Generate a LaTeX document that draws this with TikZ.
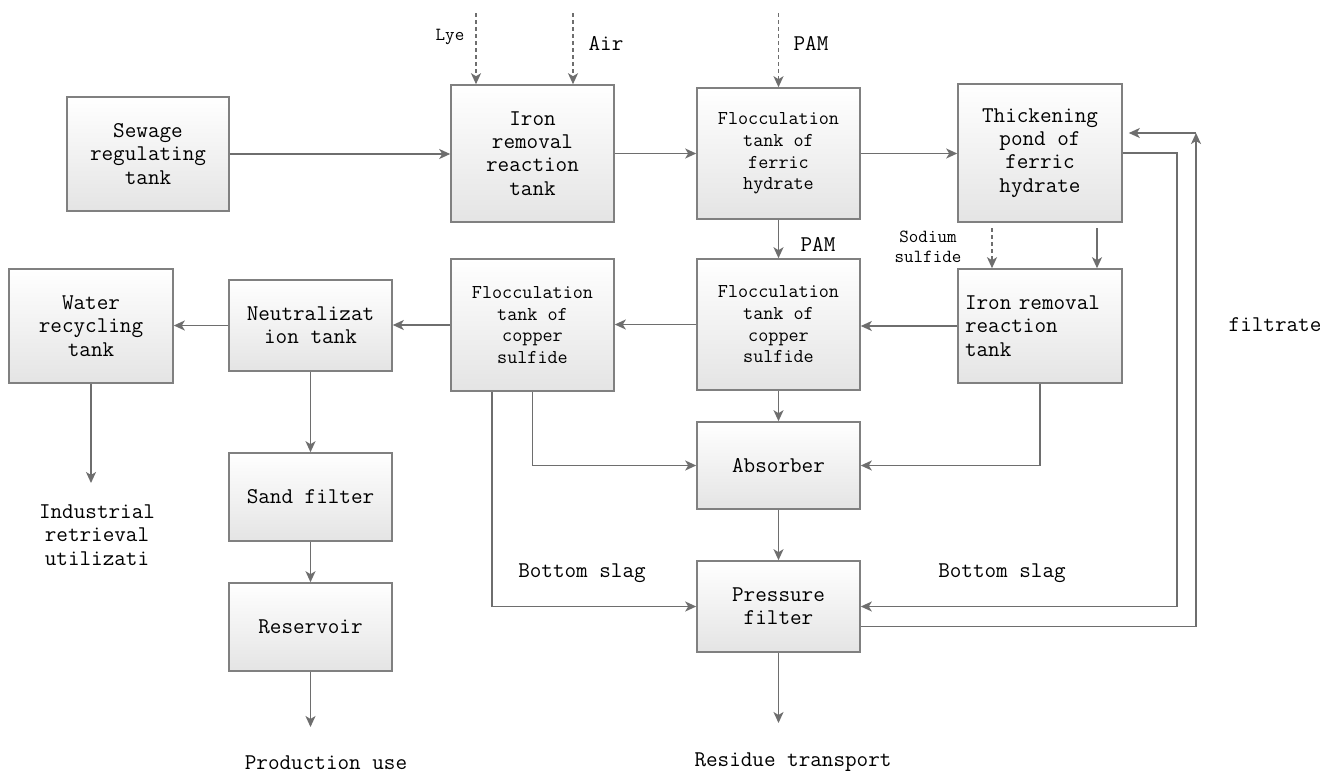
\documentclass[tikz,border=0pt]{standalone}
\usetikzlibrary{arrows.meta,shadows}
\definecolor{boxline}{HTML}{808080}
\definecolor{lineclr}{HTML}{6E6E6E}
\definecolor{boxbot}{HTML}{E4E4E4}
\newcommand\mybase{\ttfamily\fontsize{22.5}{23.3}\selectfont}
\newcommand\myfloc{\ttfamily\fontsize{19.6}{21.7}\selectfont}
\newcommand\mysmall{\ttfamily\fontsize{18.5}{20}\selectfont}
\begin{document}
\begin{tikzpicture}[x=1pt,y=-1pt,line width=1.6pt,
  box/.style={draw=boxline,top color=white,bottom color=boxbot,inner sep=0pt,align=center,font=\mybase,text=black,
    drop shadow={shadow xshift=1.2pt,shadow yshift=-1.2pt,fill=black!18}},
  arr/.style={draw=lineclr,-{Stealth[length=11pt,width=10pt,inset=3pt]}},
  dsh/.style={arr,dash pattern=on 4pt off 3pt},
  lbl/.style={font=\mybase,text=black,inner sep=0pt,align=center},
  slbl/.style={font=\mysmall,text=black,inner sep=0pt,align=center}]
\useasboundingbox[fill=white] (0,0) rectangle (1338,774);

% boxes
\node[box,minimum width=162pt,minimum height=114pt] (sew) at (148,154) {Sewage\\regulating\\tank};
\node[box,minimum width=163pt,minimum height=137pt] (iron1) at (532.5,153.5) {Iron\\removal\\reaction\\tank};
\node[box,font=\myfloc,minimum width=163pt,minimum height=131pt] (ffloc) at (778.5,153.5) {Flocculation\\tank of\\ferric\\hydrate};
\node[box,minimum width=164pt,minimum height=138pt] (thick) at (1040,153) {Thickening\\pond of\\ferric\\hydrate};
\node[box,minimum width=164pt,minimum height=114pt,align=left,text width=150pt] (iron2) at (1040,326) {Iron removal\\reaction\\tank};
\node[box,font=\myfloc,minimum width=163pt,minimum height=131pt] (cfloc2) at (778.5,324.5) {Flocculation\\tank of\\copper\\sulfide};
\node[box,font=\myfloc,minimum width=163pt,minimum height=132pt] (cfloc1) at (532.5,325) {Flocculation\\tank of\\copper\\sulfide};
\node[box,minimum width=163pt,minimum height=91pt] (neut) at (310.5,325.5) {Neutralizat\\ion tank};
\node[box,minimum width=164pt,minimum height=114pt] (water) at (91,326) {Water\\recycling\\tank};
\node[box,minimum width=163pt,minimum height=88pt] (sand) at (310.5,497) {Sand filter};
\node[box,minimum width=163pt,minimum height=88pt] (res) at (310.5,627) {Reservoir};
\node[box,minimum width=163pt,minimum height=87pt] (abs) at (778.5,465.5) {Absorber};
\node[box,minimum width=163pt,minimum height=91pt] (press) at (778.5,606.5) {Pressure\\filter};

% free ends
\coordinate (lyeS) at (476,13);
\coordinate (airS) at (573,13);
\coordinate (pamS) at (778.5,13);
\coordinate (naS) at (992,228);
\coordinate (tkS) at (1097,228);
\coordinate (wEnd) at (91,483);
\coordinate (rEnd) at (310.5,727);
\coordinate (pEnd) at (778.5,723);
\coordinate (r1) at (1177,153);
\coordinate (r2) at (1196,133);

% top row
\draw[arr] (sew.east) -- (sew.east -| iron1.west);
\draw[arr] (iron1.east) -- (iron1.east -| ffloc.west);
\draw[arr] (ffloc.east) -- (ffloc.east -| thick.west);
\draw[dsh] (lyeS) -- (lyeS |- iron1.north);
\draw[dsh] (airS) -- (airS |- iron1.north);
\draw[dsh] (pamS) -- (ffloc.north);
\draw[dsh] (naS) -- (naS |- iron2.north);
\draw[arr] (tkS) -- (tkS |- iron2.north);
\draw[arr] (ffloc) -- (cfloc2);

% second row
\draw[arr] (iron2.west) -- (iron2.west -| cfloc2.east);
\draw[arr] (cfloc2.west) -- (cfloc2.west -| cfloc1.east);
\draw[arr] (cfloc1.west) -- (cfloc1.west -| neut.east);
\draw[arr] (neut.west) -- (neut.west -| water.east);

% verticals
\draw[arr] (water.south) -- (wEnd);
\draw[arr] (neut) -- (sand);
\draw[arr] (sand) -- (res);
\draw[arr] (res.south) -- (rEnd);
\draw[arr] (cfloc2) -- (abs);
\draw[arr] (abs) -- (press);
\draw[arr] (press.south) -- (pEnd);

% collectors
\draw[arr] (cfloc1.south) |- (abs.west);
\draw[arr] ([xshift=-40.5pt]cfloc1.south) |- (press.west);
\draw[arr] (iron2.south) |- (abs.east);
\draw[arr] (thick.east) -- (r1) |- (press.east);
\draw[arr] ([yshift=-20pt]press.east) -| (r2);
\draw[arr,shorten >=6pt] (r2) -- ([yshift=20pt]thick.east);

% labels
\node[slbl] (lye) at (450,37) {Lye};
\node[lbl] (air) at (606,43) {Air};
\node[lbl] (pam1) at (811,43) {PAM};
\node[lbl] (pam2) at (818,244) {PAM};
\node[slbl] (na) at (928,247) {Sodium\\sulfide};
\node[lbl] (filt) at (1275,325) {filtrate};
\node[lbl] (bs1) at (582,573) {Bottom slag};
\node[lbl] (bs2) at (1002,573) {Bottom slag};
\node[lbl] (ind) at (97,535) {Industrial\\retrieval\\utilizati};
\node[lbl] (prod) at (326,763) {Production use};
\node[lbl] (resid) at (793,762) {Residue transport};
\end{tikzpicture}
\end{document}
